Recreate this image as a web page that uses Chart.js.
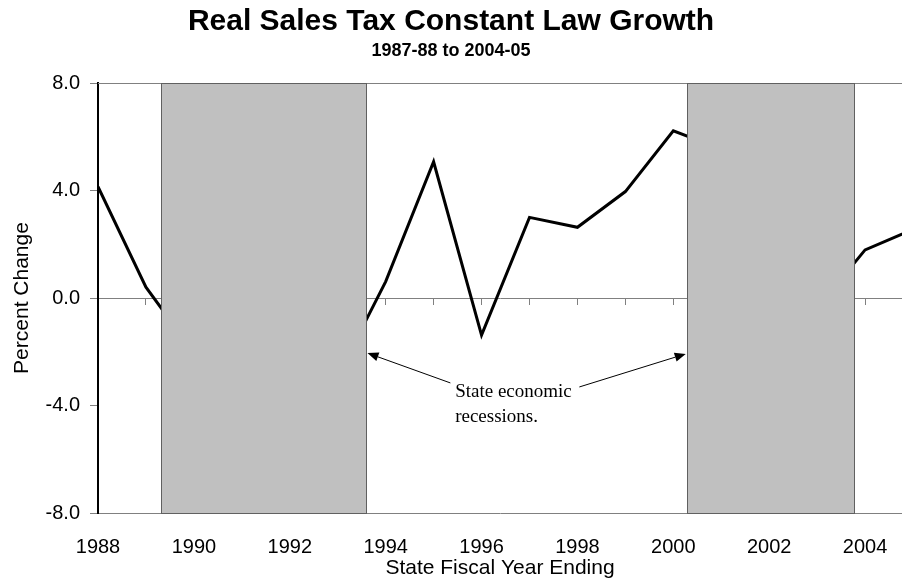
<!DOCTYPE html>
<html>
<head>
<meta charset="utf-8">
<title>Real Sales Tax Constant Law Growth</title>
<script src="https://cdn.jsdelivr.net/npm/chart.js@4.4.0/dist/chart.umd.min.js"></script>
<style>
  body { margin: 0; background: #fff; }
  #wrap { width: 902px; height: 581px; }
</style>
</head>
<body>
<div id="wrap"><canvas id="myChart"></canvas></div>
<script>
// fiscal year ending, real growth in percent
const years = [1988, 1989, 1990, 1991, 1992, 1993, 1994, 1995, 1996, 1997, 1998, 1999, 2000, 2001, 2002, 2003, 2004, 2005];
const growth = [4.14, 0.4, -2.04, -5.8, -4.6, -2.9, 0.61, 5.07, -1.38, 3.0, 2.63, 3.96, 6.22, 5.54, -3.0, -0.38, 1.79, 2.55];
const yTicks = [-8, -4, 0, 4, 8];
const xTicks = [1988, 1990, 1992, 1994, 1996, 1998, 2000, 2002, 2004];
const recessions = [[1989.31, 1993.6], [2000.28, 2003.76]];
const noteLines = ["State economic", "recessions."];

const sans = "'Liberation Sans', Arial, sans-serif";

const annotate = {
  id: "annotate",
  afterDatasetsDraw: (chart) => {
    const { ctx, chartArea, scales } = chart;
    const x = scales.x;
    const y = scales.y;
    ctx.save();

    // top edge of the plot area
    ctx.strokeStyle = "#808080";
    ctx.lineWidth = 1;
    const top = Math.round(chartArea.top) + 0.5;
    ctx.beginPath();
    ctx.moveTo(chartArea.left, top);
    ctx.lineTo(chartArea.right, top);
    ctx.stroke();

    // recession shading sits on top of the line
    recessions.forEach(([from, to]) => {
      const x1 = Math.round(x.getPixelForValue(from)) + 0.5;
      const x2 = Math.round(x.getPixelForValue(to)) + 0.5;
      const y1 = Math.round(y.getPixelForValue(yTicks[yTicks.length - 1])) + 0.5;
      const y2 = Math.round(y.getPixelForValue(yTicks[0])) + 0.5;
      ctx.fillStyle = "#c0c0c0";
      ctx.fillRect(x1, y1, x2 - x1, y2 - y1);
      ctx.strokeStyle = "#606060";
      ctx.strokeRect(x1, y1, x2 - x1, y2 - y1);
    });

    // note text
    ctx.fillStyle = "#000";
    ctx.font = "19px 'Liberation Serif', 'Times New Roman', serif";
    ctx.textAlign = "left";
    ctx.textBaseline = "alphabetic";
    const tx = x.getPixelForValue(1995.45);
    const ty = y.getPixelForValue(-3.68);
    noteLines.forEach((line, i) => ctx.fillText(line, tx, ty + i * 25));

    // arrows pointing at the recession boxes
    const arrows = [
      { from: [1995.35, -3.16], to: [recessions[0][1], -2.05] },
      { from: [1998.04, -3.31], to: [recessions[1][0], -2.08] },
    ];
    ctx.strokeStyle = "#000";
    ctx.lineWidth = 1;
    arrows.forEach((a) => {
      const fx = x.getPixelForValue(a.from[0]);
      const fy = y.getPixelForValue(a.from[1]);
      const px = x.getPixelForValue(a.to[0]) + (a.to[0] < a.from[0] ? 1 : -1);
      const py = y.getPixelForValue(a.to[1]);
      const ang = Math.atan2(py - fy, px - fx);
      const len = 11;
      const half = 4.5;
      const bx = px - len * Math.cos(ang);
      const by = py - len * Math.sin(ang);
      ctx.beginPath();
      ctx.moveTo(fx, fy);
      ctx.lineTo(bx, by);
      ctx.stroke();
      ctx.beginPath();
      ctx.moveTo(px, py);
      ctx.lineTo(bx + half * Math.sin(ang), by - half * Math.cos(ang));
      ctx.lineTo(bx - half * Math.sin(ang), by + half * Math.cos(ang));
      ctx.closePath();
      ctx.fill();
    });
    ctx.restore();
  },
};

const whiteBg = {
  id: "whiteBg",
  beforeDraw: (chart) => {
    const ctx = chart.ctx;
    ctx.save();
    ctx.fillStyle = "#fff";
    ctx.fillRect(0, 0, chart.width, chart.height);
    ctx.restore();
  },
};

const points = years.map((yr, i) => ({ x: yr, y: growth[i] }));
const xMax = 2004.77;

const ctx = document.getElementById("myChart").getContext("2d");
const myChart = new Chart(ctx, {
  type: "line",
  data: {
    datasets: [
      {
        label: "Real sales tax growth",
        data: points,
        borderColor: "#000",
        borderWidth: 3,
        pointRadius: 0,
        tension: 0,
        fill: false,
      },
    ],
  },
  options: {
    responsive: true,
    maintainAspectRatio: false,
    animation: false,
    events: [],
    layout: { padding: 0, autoPadding: false },
    plugins: {
      legend: { display: false },
      tooltip: { enabled: false },
      title: {
        display: true,
        text: "Real Sales Tax Constant Law Growth",
        color: "#000",
        font: { family: sans, size: 30, weight: "bold", lineHeight: 1.2 },
        padding: { top: 3.5, bottom: 0 },
      },
      subtitle: {
        display: true,
        text: "1987-88 to 2004-05",
        color: "#000",
        font: { family: sans, size: 18, weight: "bold", lineHeight: 1.2 },
        padding: { top: 1.2, bottom: 20.7 },
      },
    },
    scales: {
      x: {
        type: "linear",
        position: "bottom",
        min: years[0],
        max: xMax,
        afterFit: (scale) => { scale.height = 68; },
        afterBuildTicks: (scale) => { scale.ticks = xTicks.map((v) => ({ value: v })); },
        ticks: {
          color: "#000",
          font: { family: sans, size: 20 },
          padding: 2,
          maxRotation: 0,
          autoSkip: false,
          callback: (v) => String(v),
        },
        // invisible tick marks just push the labels down
        grid: { drawOnChartArea: false, drawTicks: true, tickLength: 20, color: "rgba(0,0,0,0)" },
        border: { display: true, color: "#808080", width: 1 },
        title: {
          display: true,
          text: "State Fiscal Year Ending",
          color: "#000",
          font: { family: sans, size: 21, lineHeight: 1.2 },
          padding: { top: 0, bottom: 0 },
        },
      },
      zero: {
        type: "linear",
        axis: "x",
        position: { y: 0 },
        min: years[0],
        max: xMax,
        afterBuildTicks: (scale) => { scale.ticks = years.filter((v) => v <= xMax).map((v) => ({ value: v })); },
        ticks: { display: false, padding: 0 },
        grid: { drawOnChartArea: false, drawTicks: true, tickLength: 6, color: "#808080" },
        border: { display: true, color: "#808080", width: 1 },
      },
      y: {
        type: "linear",
        position: "left",
        min: yTicks[0],
        max: yTicks[yTicks.length - 1],
        afterFit: (scale) => { scale.width = 98; },
        afterBuildTicks: (scale) => { scale.ticks = yTicks.map((v) => ({ value: v })); },
        ticks: {
          color: "#000",
          font: { family: sans, size: 20 },
          padding: 10,
          callback: (v) => v.toFixed(1),
        },
        grid: { drawOnChartArea: false, drawTicks: true, tickLength: 8, color: "#808080" },
        border: { display: true, color: "#000", width: 2 },
        title: {
          display: true,
          text: "Percent Change",
          color: "#000",
          font: { family: sans, size: 21, lineHeight: 1.2 },
          padding: { top: 9.4, bottom: 0 },
        },
      },
    },
  },
  plugins: [whiteBg, annotate],
});
</script>
</body>
</html>
